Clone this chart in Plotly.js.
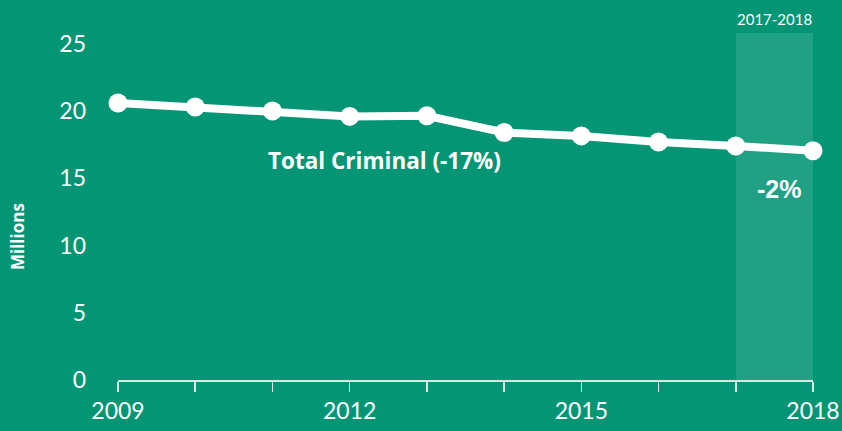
<!DOCTYPE html>
<html><head><meta charset="utf-8">
<script src="https://cdn.plot.ly/plotly-3.0.1.min.js"></script>
<style>html,body{margin:0;padding:0;background:#039574;}#chart{width:842px;height:431px;}</style>
</head><body><div id="chart"></div>
<script>
const years = [2009,2010,2011,2012,2013,2014,2015,2016,2017,2018];
const totalCriminal = [20.6,20.3,20.0,19.6,19.65,18.4,18.15,17.7,17.4,17.05];
const xTickLabels = ['2009','','','2012','','','2015','','','2018'];
const yTicks = [0,5,10,15,20,25];
const seriesLabel = 'Total Criminal (-17%)';
const highlightLabel = '2017-2018';
const highlightChange = '-2%';
const axisLabel = 'Millions';
const highlightStart = 2017, highlightEnd = 2018;

const font = 'Lato, "Open Sans", sans-serif';
const boldFont = '"Open Sans", Lato, sans-serif';
const trace = {
  x: years, y: totalCriminal, type: 'scatter', mode: 'lines+markers',
  line: {color: '#ffffff', width: 8},
  marker: {color: '#ffffff', size: 19},
  cliponaxis: false, hoverinfo: 'skip'
};
const layout = {
  width: 842, height: 431,
  paper_bgcolor: '#039574', plot_bgcolor: '#039574',
  margin: {l: 118, r: 29, t: 33, b: 51},
  showlegend: false,
  font: {family: font, color: '#ffffff'},
  xaxis: {
    range: [2009, 2018], tickvals: years, ticktext: xTickLabels,
    ticks: 'outside', ticklen: 10, tickcolor: '#d9e8e2', tickwidth: 1.5,
    showline: true, linecolor: '#d9e8e2', linewidth: 1.5,
    showgrid: false, zeroline: false,
    tickfont: {size: 23, color: '#ffffff', family: font}
  },
  yaxis: {
    range: [0, 25.8], tickvals: yTicks, showgrid: false, zeroline: false, showline: false,
    ticks: '', ticklabelstandoff: 31,
    tickfont: {size: 23, color: '#ffffff', family: font}
  },
  shapes: [{
    type: 'rect', xref: 'x', yref: 'paper', x0: highlightStart, x1: highlightEnd, y0: 0, y1: 1,
    fillcolor: 'rgba(255,255,255,0.12)', line: {width: 0}, layer: 'below'
  }],
  annotations: [
    {x: 2012.45, y: 16.3, xref: 'x', yref: 'y', text: '<b>' + seriesLabel + '</b>', showarrow: false,
     font: {size: 22.5, color: '#ffffff', family: boldFont}},
    {x: (highlightStart + highlightEnd) / 2, xshift: 5, y: 14.2, xref: 'x', yref: 'y', text: '<b>' + highlightChange + '</b>', showarrow: false,
     font: {size: 25, color: '#ffffff', family: '"Liberation Sans", Arial, sans-serif'}},
    {x: (highlightStart + highlightEnd) / 2, y: 1, xref: 'x', yref: 'paper', yanchor: 'bottom', yshift: 3,
     text: highlightLabel, showarrow: false, font: {size: 15, color: '#ffffff', family: font}},
    {x: -0.1453, y: 0.412, xref: 'paper', yref: 'paper', xanchor: 'center', yanchor: 'middle', textangle: -90, showarrow: false,
     text: '<b>' + axisLabel + '</b>', font: {size: 17, color: '#ffffff', family: boldFont}}
  ]
};
Plotly.newPlot('chart', [trace], layout, {displayModeBar: false, staticPlot: true});
</script></body></html>
